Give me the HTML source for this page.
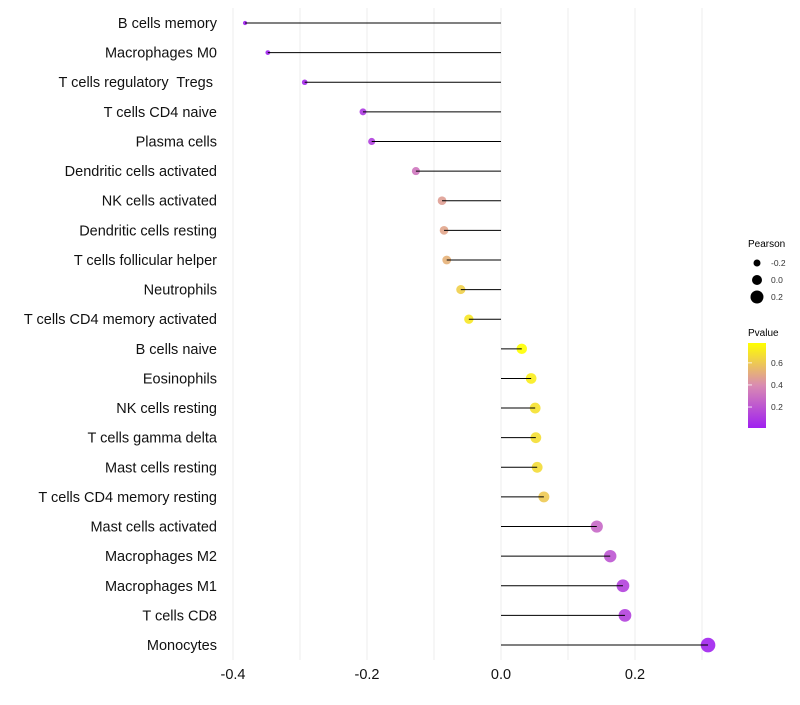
<!DOCTYPE html>
<html><head><meta charset="utf-8"><style>
body{margin:0;background:#fff;font-family:"Liberation Sans",sans-serif}
svg text{font-family:"Liberation Sans",sans-serif;white-space:pre}
</style></head><body>
<svg id="chart" width="800" height="700">
<defs><linearGradient id="pg" x1="0" y1="1" x2="0" y2="0">
<stop offset="0" stop-color="#a020f0"/><stop offset="0.5" stop-color="#d98bb2"/><stop offset="1" stop-color="#ffff00"/>
</linearGradient></defs>
<g id="grid"></g><g id="dots"></g><g id="marks"></g><g id="labels"></g><g id="xticks"></g>
<g>
<text x="748" y="247" font-size="10">Pearson</text>
<g id="sizeleg"></g>
<text x="748" y="336" font-size="10">Pvalue</text>
<rect x="748" y="343" width="18" height="85" fill="url(#pg)"/>
<g id="colleg"></g>
</g>
</svg>
<script>
const categories=["B cells memory","Macrophages M0","T cells regulatory  Tregs ","T cells CD4 naive","Plasma cells","Dendritic cells activated","NK cells activated","Dendritic cells resting","T cells follicular helper","Neutrophils","T cells CD4 memory activated","B cells naive","Eosinophils","NK cells resting","T cells gamma delta","Mast cells resting","T cells CD4 memory resting","Mast cells activated","Macrophages M2","Macrophages M1","T cells CD8","Monocytes"];
const pearson=[-0.382,-0.348,-0.293,-0.206,-0.193,-0.127,-0.088,-0.085,-0.081,-0.060,-0.048,0.031,0.045,0.051,0.052,0.054,0.064,0.143,0.163,0.182,0.185,0.309];
const pvalue=[0.01,0.02,0.04,0.10,0.12,0.32,0.46,0.48,0.52,0.62,0.70,0.78,0.72,0.68,0.67,0.66,0.60,0.27,0.20,0.13,0.13,0.02];
const xTicks=[-0.4,-0.2,0.0,0.2];
const xTickLabels=["-0.4","-0.2","0.0","0.2"];
const sizeLegend=[-0.2,0.0,0.2];
const colorLegend=[0.2,0.4,0.6];
const NS="http://www.w3.org/2000/svg";
const X=v=>501+v*670;
const Y=i=>23+i*29.62;
const R=v=>5+7.5*v;
const P=p=>428-(p-0.01)*(85/0.77);
function lerp(a,b,t){return a.map((x,i)=>Math.round(x+(b[i]-x)*t));}
function col(p){const t=Math.max(0,Math.min(1,(p-0.01)/0.77));const A=[160,32,240],M=[217,139,178],B=[255,255,0];
const c=t<0.5?lerp(A,M,t*2):lerp(M,B,(t-0.5)*2);return `rgb(${c})`;}
function mk(tag,attrs,parent){const e=document.createElementNS(NS,tag);for(const k in attrs)e.setAttribute(k,attrs[k]);parent.appendChild(e);return e;}
const grid=document.getElementById('grid'),dots=document.getElementById('dots'),marks=document.getElementById('marks'),labels=document.getElementById('labels'),xt=document.getElementById('xticks');
for(let v=-0.4;v<=0.31;v+=0.1){const l=mk('line',{x1:X(v),x2:X(v),y1:8,y2:660,stroke:'#ececec','stroke-width':1},grid);

}
categories.forEach((c,i)=>{
const y=Y(i);
const d=mk('circle',{cx:X(pearson[i]),cy:y,r:R(pearson[i]),fill:col(pvalue[i]),'fill-opacity':0.9},dots);


const ln=mk('line',{x1:X(0),x2:X(pearson[i]),y1:y,y2:y,stroke:'#000','stroke-width':1},marks);


const t=mk('text',{x:217,y:y+5,'text-anchor':'end','font-size':14.5,fill:'#111'},labels);


t.textContent=c;
});
xTicks.forEach((v,i)=>{const t=mk('text',{x:X(v),y:679,'text-anchor':'middle','font-size':14.5,fill:'#111'},xt);


t.textContent=xTickLabels[i];});
const sl=document.getElementById('sizeleg');
sizeLegend.forEach((v,i)=>{const y=263+i*17;
const c=mk('circle',{cx:757,cy:y,r:R(v),fill:'#000'},sl);


const t=mk('text',{x:771,y:y+3,'font-size':8.5,fill:'#333'},sl);


t.textContent=v.toFixed(1);});
const cl=document.getElementById('colleg');
colorLegend.forEach(v=>{const y=P(v);
const a=mk('line',{x1:748,x2:752,y1:y,y2:y,stroke:'#fff','stroke-width':0.8},cl);


const t=mk('text',{x:771,y:y+3,'font-size':8.5,fill:'#333'},cl);


t.textContent=v.toFixed(1);});
</script>
</body></html>
